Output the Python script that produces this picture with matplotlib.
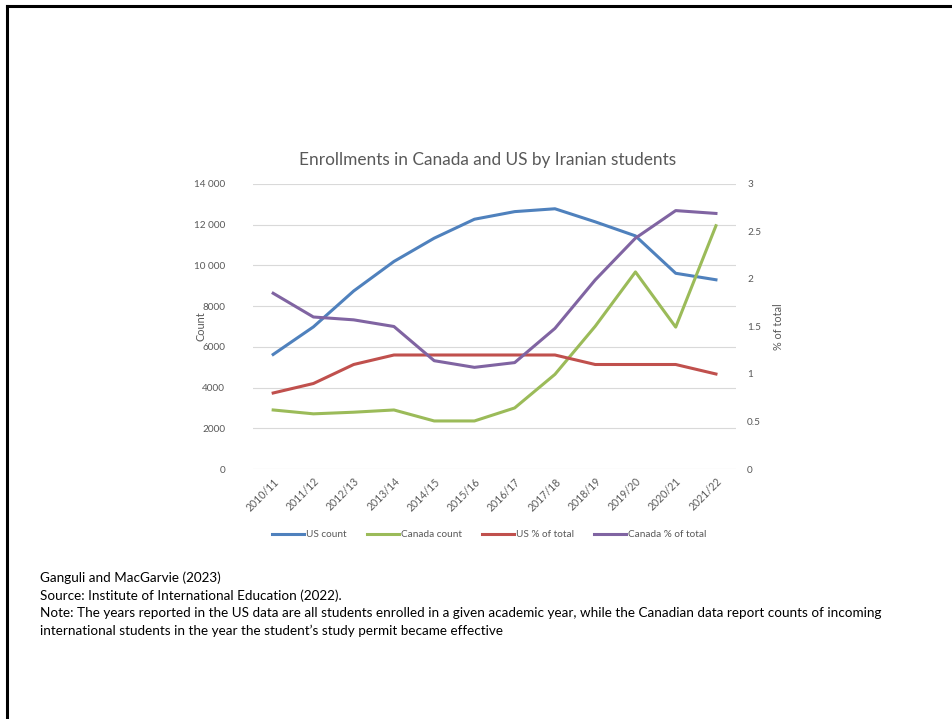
import matplotlib.pyplot as plt
from matplotlib.lines import Line2D

years = ['2010/11', '2011/12', '2012/13', '2013/14', '2014/15', '2015/16',
         '2016/17', '2017/18', '2018/19', '2019/20', '2020/21', '2021/22']
us_count = [5626, 6982, 8744, 10194, 11338, 12269, 12643, 12783, 12142, 11451, 9614, 9295]
canada_count = [2900, 2710, 2790, 2900, 2360, 2360, 3000, 4650, 7010, 9680, 6970, 11950]
us_pct = [0.8, 0.9, 1.1, 1.2, 1.2, 1.2, 1.2, 1.2, 1.1, 1.1, 1.1, 1.0]
canada_pct = [1.85, 1.6, 1.57, 1.5, 1.14, 1.07, 1.12, 1.48, 1.99, 2.43, 2.72, 2.69]

left_ticks = [0, 2000, 4000, 6000, 8000, 10000, 12000, 14000]
left_labels = ['0', '2000', '4000', '6000', '8000', '10 000', '12 000', '14 000']
right_ticks = [0, 0.5, 1, 1.5, 2, 2.5, 3]
right_labels = ['0', '0.5', '1', '1.5', '2', '2.5', '3']

blue = '#4F81BD'
green = '#9BBB59'
red = '#C0504D'
purple = '#8064A2'
grey = '#595959'

plt.rcParams['font.family'] = ['Lato', 'DejaVu Sans']

fig = plt.figure(figsize=(9.52, 7.19), dpi=100)

# slide frame: top and left edges only
fig.add_artist(Line2D([0.007, 1.0], [0.9916, 0.9916], color='black', lw=2.2,
                      transform=fig.transFigure))
fig.add_artist(Line2D([0.007, 0.007], [0.0, 0.9916], color='black', lw=2.2,
                      transform=fig.transFigure))

ax = fig.add_axes([0.2658, 0.3477, 0.5074, 0.3964])
ax2 = ax.twinx()

x = list(range(len(years)))
ax.plot(x, us_count, color=blue, lw=2.2, label='US count')
ax.plot(x, canada_count, color=green, lw=2.2, label='Canada count')
ax2.plot(x, us_pct, color=red, lw=2.2, label='US % of total')
ax2.plot(x, canada_pct, color=purple, lw=2.2, label='Canada % of total')

ax.set_xlim(-0.5, len(years) - 0.5)
ax.set_ylim(0, 14000)
ax2.set_ylim(0, 3)

ax.set_yticks(left_ticks)
ax.set_yticklabels(left_labels)
ax2.set_yticks(right_ticks)
ax2.set_yticklabels(right_labels)
ax.set_xticks(x)
ax.set_xticklabels(years, rotation=45, ha='right', va='top',
                   rotation_mode='anchor', fontsize=7.6)

ax.grid(axis='y', color='#D9D9D9', lw=0.8)
ax.set_axisbelow(True)
for a in (ax, ax2):
    for s in a.spines.values():
        s.set_visible(False)
    a.tick_params(length=0, colors=grey)
    a.tick_params(axis='y', labelsize=7.2)
ax.tick_params(axis='y', pad=20)
ax2.tick_params(axis='y', pad=8)
ax.tick_params(axis='x', pad=5)

ax.set_ylabel('Count', fontsize=7.8, color=grey)
ax.yaxis.set_label_coords(-0.096, 0.5)
ax2.set_ylabel('% of total', fontsize=7.8, color=grey)
ax2.yaxis.set_label_coords(1.077, 0.5)
ax.set_title('Enrollments in Canada and US by Iranian students',
             fontsize=12.4, color=grey, pad=14, x=0.4855)

h1, l1 = ax.get_legend_handles_labels()
h2, l2 = ax2.get_legend_handles_labels()
fig.legend(h1 + h2, l1 + l2, loc='center', bbox_to_anchor=(0.514, 0.256),
           ncol=4, frameon=False, fontsize=7.2, labelcolor=grey,
           handlelength=3.2, handletextpad=0.2, columnspacing=2.0)

notes = [
    'Ganguli and MacGarvie (2023)',
    'Source: Institute of International Education (2022).',
    'Note: The years reported in the US data are all students enrolled in a given academic year, '
    'while the Canadian data report counts of incoming',
    'international students in the year the student\u2019s study permit became effective',
]
for i, line in enumerate(notes):
    fig.text(0.042, 1 - (578 + i * 17.5) / 719, line, fontsize=9.75,
             color='black', va='center', ha='left')

fig.savefig('out.png', dpi=100)
